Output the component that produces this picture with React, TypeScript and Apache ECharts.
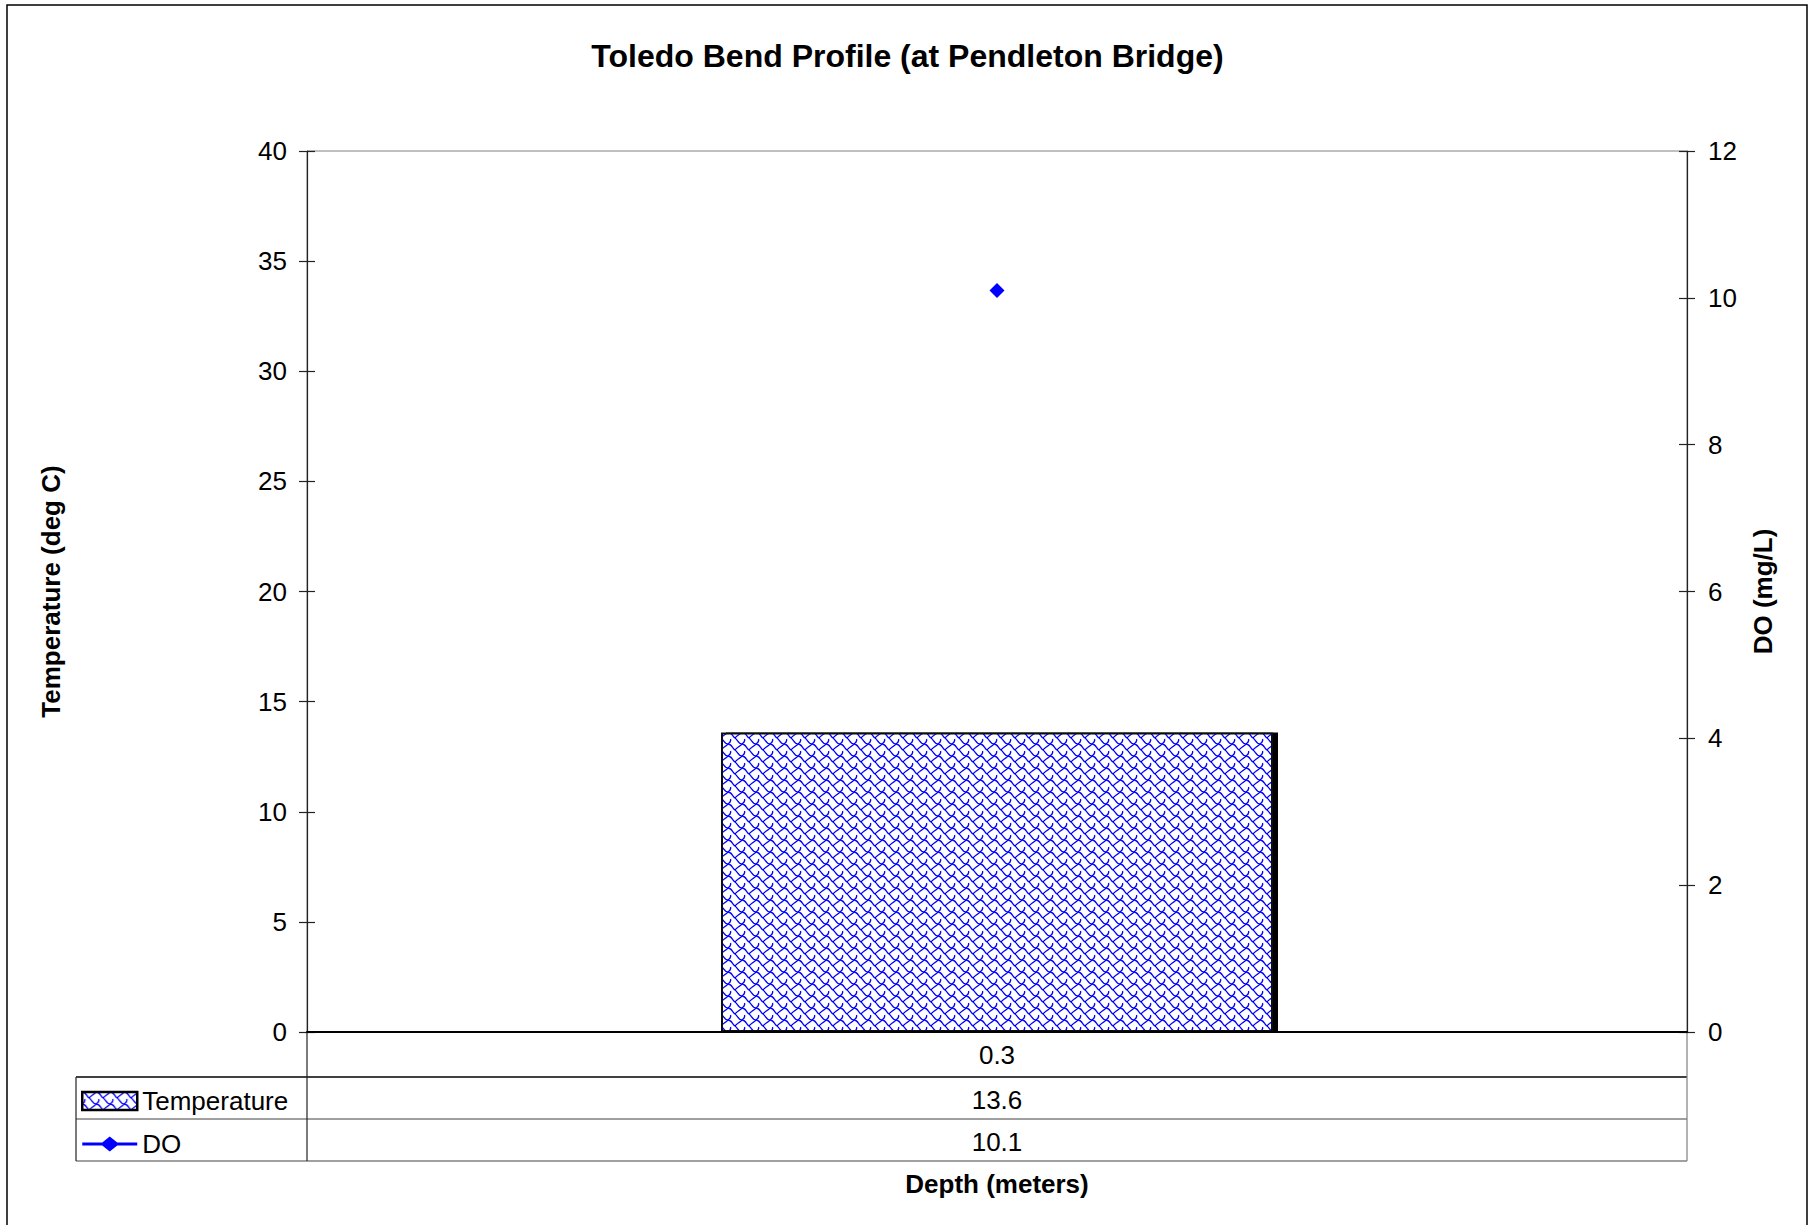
import React, { useEffect, useRef } from "react";
import * as echarts from "echarts";

// ---- data ----
const depthCategories = ["0.3"];
const temperatureValues = [13.6];
const doValues = [10.1];
const seriesNames = ["Temperature", "DO"];
const titleText = "Toledo Bend Profile (at Pendleton Bridge)";
const leftAxisName = "Temperature (deg C)";
const rightAxisName = "DO (mg/L)";
const xAxisName = "Depth (meters)";

const FONT = "'Liberation Sans', Arial, Helvetica, sans-serif";

// shingle-like mesh tile
const tileSvg =
  "<svg xmlns='http://www.w3.org/2000/svg' width='14' height='12' viewBox='0 0 14 12'>" +
  "<rect width='14' height='12' fill='white'/>" +
  "<path d='M0 0 C4 0 4 4 7 6 C10 8 10 12 14 12 M7 6 C8.5 3.5 11 3 14 0 M0 12 C3 10 3 8.5 2.5 7' " +
  "stroke='#0000FF' stroke-width='1.3' fill='none'/></svg>";
const tileUrl = "data:image/svg+xml;charset=utf-8," + encodeURIComponent(tileSvg);
const pattern: any = { image: tileUrl, repeat: "repeat", imageWidth: 14, imageHeight: 12 };

const doLegendIcon =
  "path://M0,6 L20,6 L27.5,0 L35,6 L55,6 L55,9 L35,9 L27.5,15 L20,9 L0,9 Z";

export default function App() {
  const ref = useRef<HTMLDivElement>(null);
  useEffect(() => {
    if (!ref.current) return;
    const chart = echarts.init(ref.current, null, { renderer: "svg" });
    const gridLeft = 307;
    const gridRight = 1687;
    const axisY = 1032;
    const cx = (gridLeft + gridRight) / 2;
    const row1 = 1077;
    const row2 = 1119;
    const row3 = 1161;
    const tableLeft = 76;

    const valueRows = [
      { y: (row1 + row2) / 2 + 2, text: temperatureValues.map((v) => v.toFixed(1)).join("") },
      { y: (row2 + row3) / 2 + 2, text: doValues.map((v) => v.toFixed(1)).join("") },
    ];

    chart.setOption({
      animation: false,
      backgroundColor: "#ffffff",
      textStyle: { fontFamily: FONT },
      title: {
        text: titleText,
        left: "center",
        top: 35,
        textStyle: { fontFamily: FONT, fontSize: 32, fontWeight: "bold", color: "#000" },
      },
      legend: {
        orient: "vertical",
        left: 81,
        top: 1088,
        padding: 0,
        itemGap: 17,
        itemWidth: 55,
        itemHeight: 18,
        data: [
          {
            name: seriesNames[0],
            icon: "rect",
            itemStyle: { color: pattern, borderColor: "#000", borderWidth: 2.5 },
          },
          {
            name: seriesNames[1],
            icon: doLegendIcon,
            itemStyle: { color: "#0000FF", borderWidth: 0 },
          },
        ],
        textStyle: { fontFamily: FONT, fontSize: 26, color: "#000", padding: [0, 0, 0, 0] },
        selectedMode: false,
      },
      grid: {
        left: gridLeft,
        right: 1815 - gridRight,
        top: 151,
        bottom: 1225 - axisY,
        show: true,
        borderColor: "#808080",
        borderWidth: 1,
        containLabel: false,
      },
      xAxis: {
        type: "category",
        data: depthCategories,
        name: xAxisName,
        nameLocation: "middle",
        nameGap: 139,
        nameTextStyle: { fontFamily: FONT, fontSize: 26, fontWeight: "bold", color: "#000" },
        axisLine: { show: true, lineStyle: { color: "#000", width: 2 } },
        axisTick: { show: false },
        axisLabel: { fontFamily: FONT, fontSize: 26, color: "#000", margin: 10 },
        splitLine: { show: false },
        z: 5,
      },
      yAxis: [
        {
          type: "value",
          min: 0,
          max: 40,
          interval: 5,
          position: "left",
          name: leftAxisName,
          nameLocation: "middle",
          nameRotate: 90,
          nameGap: 243,
          nameTextStyle: { fontFamily: FONT, fontSize: 26, fontWeight: "bold", color: "#000" },
          axisLine: { show: true, lineStyle: { color: "#222", width: 1.2 } },
          axisTick: { show: true, length: 8, lineStyle: { color: "#222", width: 1.2 } },
          axisLabel: { fontFamily: FONT, fontSize: 26, color: "#000", margin: 20 },
          splitLine: { show: false },
        },
        {
          type: "value",
          min: 0,
          max: 12,
          interval: 2,
          position: "right",
          name: rightAxisName,
          nameLocation: "middle",
          nameRotate: 90,
          nameGap: 63,
          nameTextStyle: { fontFamily: FONT, fontSize: 26, fontWeight: "bold", color: "#000" },
          axisLine: { show: true, lineStyle: { color: "#222", width: 1.2 } },
          axisTick: { show: true, length: 8, lineStyle: { color: "#222", width: 1.2 } },
          axisLabel: { fontFamily: FONT, fontSize: 26, color: "#000", margin: 21 },
          splitLine: { show: false },
        },
        {
          type: "value",
          min: 0,
          max: 40,
          interval: 5,
          position: "left",
          axisLine: { show: false },
          axisTick: { show: true, inside: true, length: 8, lineStyle: { color: "#222", width: 1.2 } },
          axisLabel: { show: false },
          splitLine: { show: false },
        },
        {
          type: "value",
          min: 0,
          max: 12,
          interval: 2,
          position: "right",
          axisLine: { show: false },
          axisTick: { show: true, inside: true, length: 8, lineStyle: { color: "#222", width: 1.2 } },
          axisLabel: { show: false },
          splitLine: { show: false },
        },
      ],
      series: [
        {
          name: seriesNames[0],
          type: "bar",
          yAxisIndex: 0,
          data: temperatureValues,
          barWidth: "40%",
          itemStyle: {
            color: pattern,
            borderColor: "#111",
            borderWidth: 2,
            shadowColor: "#000",
            shadowBlur: 0,
            shadowOffsetX: 5,
            shadowOffsetY: 0,
          },
          z: 2,
        },
        {
          name: seriesNames[1],
          type: "line",
          yAxisIndex: 1,
          data: doValues,
          symbol: "diamond",
          symbolSize: 15,
          itemStyle: { color: "#0000FF" },
          lineStyle: { color: "#0000FF", width: 2 },
          z: 3,
        },
      ],
      graphic: [
        {
          type: "rect",
          silent: true,
          z: -10,
          shape: { x: 7, y: 5, width: 1800, height: 1260 },
          style: { fill: "none", stroke: "#000", lineWidth: 1.5 },
        },
        // table lines
        { type: "line", silent: true, shape: { x1: tableLeft, y1: row1, x2: gridRight, y2: row1 }, style: { stroke: "#000", lineWidth: 1.3 } },
        { type: "line", silent: true, shape: { x1: tableLeft, y1: row2, x2: gridRight, y2: row2 }, style: { stroke: "#404040", lineWidth: 1.2 } },
        { type: "line", silent: true, shape: { x1: tableLeft, y1: row3, x2: gridRight, y2: row3 }, style: { stroke: "#808080", lineWidth: 1.5 } },
        { type: "line", silent: true, shape: { x1: tableLeft, y1: row1, x2: tableLeft, y2: row3 }, style: { stroke: "#222", lineWidth: 1.2 } },
        { type: "line", silent: true, shape: { x1: gridLeft, y1: axisY, x2: gridLeft, y2: row3 }, style: { stroke: "#222", lineWidth: 1.2 } },
        { type: "line", silent: true, shape: { x1: gridRight, y1: axisY, x2: gridRight, y2: row3 }, style: { stroke: "#808080", lineWidth: 1.2 } },
        ...valueRows.map((r) => ({
          type: "text",
          silent: true,
          x: cx,
          y: r.y,
          style: {
            text: r.text,
            fontFamily: FONT,
            fontSize: 26,
            fill: "#000",
            align: "center",
            verticalAlign: "middle",
          },
        })),
      ],
    });
    return () => chart.dispose();
  }, []);
  return (
    <div
      ref={ref}
      style={{ position: "fixed", left: 0, top: 0, width: 1815, height: 1225, background: "#fff" }}
    />
  );
}
